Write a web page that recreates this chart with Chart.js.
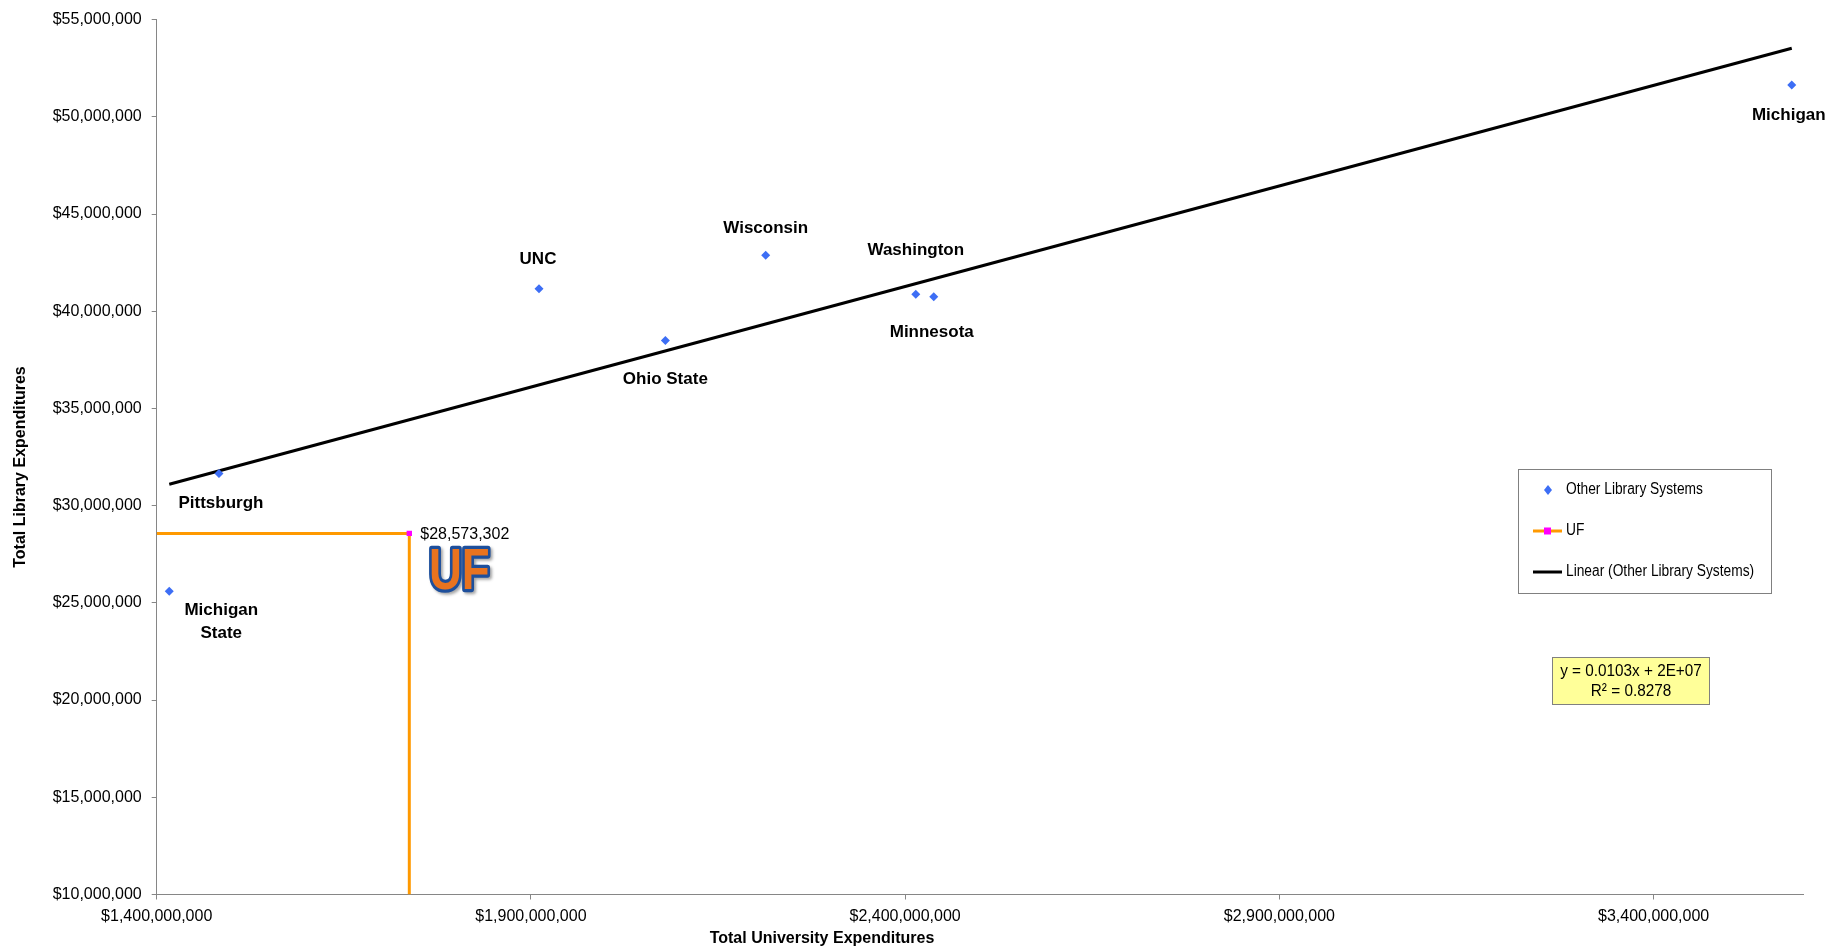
<!DOCTYPE html>
<html>
<head>
<meta charset="utf-8">
<script src="https://cdn.jsdelivr.net/npm/chart.js@4.4.1/dist/chart.umd.min.js"></script>
<style>
  html, body { margin: 0; padding: 0; background: #fff; }
  #wrap { width: 1845px; height: 951px; position: relative; }
</style>
</head>
<body>
<div id="wrap"><canvas id="libChart"></canvas></div>
<script>
// data
var schools = ["Michigan\nState", "Pittsburgh", "UNC", "Ohio State", "Wisconsin", "Washington", "Minnesota", "Michigan"];
var univExp = [1416800000, 1483200000, 1910800000, 2079600000, 2213700000, 2414200000, 2438200000, 3584600000];
var libExp  = [25600000, 31650000, 41150000, 38500000, 42880000, 40870000, 40750000, 51630000];
var ufUnivExp = 1737500000;
var ufLibExp = 28573302;
var xTicks = [1400000000, 1900000000, 2400000000, 2900000000, 3400000000];
var xMin = 1400000000, xMax = 3600000000;
var yMin = 10000000, yMax = 55000000, yStep = 5000000;
var eqLines = ["y = 0.0103x + 2E+07", "R\u00b2 = 0.8278"];

var FONT = "'Liberation Sans', Arial, sans-serif";

// label offsets from each marker (px)
var labelOffsets = [[52, 19], [2, 30], [-1, -30], [0, 39], [0, -27], [0, -44], [-2, 36], [-3, 30]];

// linear trend (least squares) like excel's trendline
function linearFit(xs, ys) {
    var n = xs.length, sx = 0, sy = 0, sxy = 0, sxx = 0;
    for (var i = 0; i < n; i++) { sx += xs[i]; sy += ys[i]; sxy += xs[i] * ys[i]; sxx += xs[i] * xs[i]; }
    var b = (n * sxy - sx * sy) / (n * sxx - sx * sx);
    return { slope: b, icpt: (sy - b * sx) / n };
}
var fit = linearFit(univExp, libExp);
var trendX = [Math.min.apply(null, univExp), Math.max.apply(null, univExp)];

function money(v) { return "$" + Math.round(v).toLocaleString("en-US"); }

var otherPts = univExp.map(function(x, i) { return { x: x, y: libExp[i] }; });
var ufPts = [{ x: xMin, y: ufLibExp }, { x: ufUnivExp, y: ufLibExp }, { x: ufUnivExp, y: yMin }];
var trendPts = trendX.map(function(x) { return { x: x, y: fit.icpt + fit.slope * x }; });

function condText(ctx, txt, x, y, sx) {
    ctx.save();
    ctx.translate(x, y);
    ctx.scale(sx, 1);
    ctx.fillText(txt, 0, 0);
    ctx.restore();
}

var extras = {
    id: "extras",
    afterDatasetsDraw: function(chart) {
        var ctx = chart.ctx;
        var pts = chart.getDatasetMeta(0).data;
        ctx.save();
        // school labels
        ctx.fillStyle = "#000";
        ctx.font = "bold 17px " + FONT;
        ctx.textAlign = "center";
        ctx.textBaseline = "middle";
        pts.forEach(function(p, i) {
            var lines = schools[i].split("\n");
            lines.forEach(function(l, j) {
                ctx.fillText(l, p.x + labelOffsets[i][0], p.y + labelOffsets[i][1] + j * 23.5);
            });
        });

        // UF value label + big UF word
        var up = chart.getDatasetMeta(1).data[1];
        ctx.font = "16px " + FONT;
        ctx.textAlign = "left";
        ctx.fillText(money(ufLibExp), up.x + 11, up.y + 1);

        ctx.save();
        ctx.translate(up.x + 50, up.y + 40);
        ctx.scale(0.76, 0.95);
        ctx.font = "bold 60px " + FONT;
        ctx.textAlign = "center";
        ctx.lineJoin = "round";
        ctx.shadowColor = "rgba(0,0,0,0.35)";
        ctx.shadowOffsetX = 2; ctx.shadowOffsetY = 2; ctx.shadowBlur = 3;
        ctx.strokeStyle = "#1d4f9c";
        ctx.lineWidth = 7;
        ctx.strokeText("UF", 0, 0);
        ctx.shadowColor = "transparent";
        ctx.fillStyle = "#e8731f";
        ctx.fillText("UF", 0, 0);
        ctx.restore();

        // legend box
        ctx.fillStyle = "#fff";
        ctx.fillRect(1518, 469, 253, 124);
        ctx.strokeStyle = "#808080";
        ctx.lineWidth = 1;
        ctx.strokeRect(1518.5, 469.5, 253, 124);
        ctx.fillStyle = "#3d6ef5";
        ctx.beginPath();
        ctx.moveTo(1548, 485); ctx.lineTo(1552, 490); ctx.lineTo(1548, 495); ctx.lineTo(1544, 490);
        ctx.closePath(); ctx.fill();
        ctx.strokeStyle = "#ff9900"; ctx.lineWidth = 3;
        ctx.beginPath(); ctx.moveTo(1533, 531); ctx.lineTo(1562, 531); ctx.stroke();
        ctx.fillStyle = "#ff00ff";
        ctx.fillRect(1544, 527.5, 7, 7);
        ctx.strokeStyle = "#000"; ctx.lineWidth = 3;
        ctx.beginPath(); ctx.moveTo(1533, 572); ctx.lineTo(1562, 572); ctx.stroke();
        ctx.fillStyle = "#000";
        ctx.font = "16px " + FONT;
        ctx.textAlign = "left";
        condText(ctx, "Other Library Systems", 1566, 490, 0.86);
        condText(ctx, "UF", 1566, 531, 0.86);
        condText(ctx, "Linear (Other Library Systems)", 1566, 572, 0.86);

        // equation box
        ctx.fillStyle = "#ffff99";
        ctx.fillRect(1552, 657, 158, 48);
        ctx.strokeStyle = "#808080"; ctx.lineWidth = 1;
        ctx.strokeRect(1552.5, 657.5, 157, 47);
        ctx.fillStyle = "#000";
        ctx.font = "17px " + FONT;
        ctx.textAlign = "center";
        condText(ctx, eqLines[0], 1631, 671, 0.9);
        condText(ctx, eqLines[1], 1631, 691, 0.9);

        // axis titles
        ctx.font = "bold 16px " + FONT;
        ctx.fillText("Total University Expenditures", 822, 939);
        ctx.save();
        ctx.translate(21, 467);
        ctx.rotate(-Math.PI / 2);
        ctx.fillText("Total Library Expenditures", 0, 0);
        ctx.restore();
        ctx.restore();
    }
};

new Chart(document.getElementById("libChart"), {
    type: "scatter",
    data: {
        datasets: [{
            label: "Other Library Systems",
            data: otherPts,
            pointStyle: "rectRot",
            pointRadius: 4.5,
            pointHoverRadius: 4.5,
            backgroundColor: "#3d6ef5",
            borderColor: "#3d6ef5",
            borderWidth: 0
        }, {
            label: "UF",
            data: ufPts,
            showLine: true,
            borderColor: "#ff9900",
            borderWidth: 3,
            pointStyle: "rect",
            pointRadius: [0, 3.8, 0],
            pointBackgroundColor: "#ff00ff",
            pointBorderColor: "#ff00ff",
            pointBorderWidth: 0
        }, {
            label: "Linear (Other Library Systems)",
            data: trendPts,
            showLine: true,
            borderColor: "#000",
            borderWidth: 3,
            pointRadius: 0
        }]
    },
    options: {
        responsive: true,
        maintainAspectRatio: false,
        animation: false,
        layout: { padding: { top: 15, right: 41.7, left: 0, bottom: 0 } },
        plugins: {
            legend: { display: false },
            tooltip: { enabled: false }
        },
        scales: {
            x: {
                type: "linear",
                min: xMin,
                max: xMax,
                afterBuildTicks: function(scale) {
                    scale.ticks = xTicks.map(function(v) { return { value: v }; });
                },
                afterFit: function(scale) { scale.height = 56.5; },
                grid: { drawOnChartArea: false, tickLength: 5, color: "#868686" },
                border: { color: "#868686", width: 1 },
                ticks: {
                    padding: 7,
                    color: "#000",
                    font: { family: FONT, size: 16 },
                    maxRotation: 0,
                    callback: function(v) { return money(v); }
                }
            },
            y: {
                type: "linear",
                min: yMin,
                max: yMax,
                afterFit: function(scale) { scale.width = 156.7; },
                grid: { drawOnChartArea: false, tickLength: 5, color: "#868686" },
                border: { color: "#868686", width: 1 },
                ticks: {
                    stepSize: yStep,
                    padding: 10,
                    color: "#000",
                    font: { family: FONT, size: 16 },
                    callback: function(v) { return money(v); }
                }
            }
        }
    },
    plugins: [extras]
});
</script>
</body>
</html>
